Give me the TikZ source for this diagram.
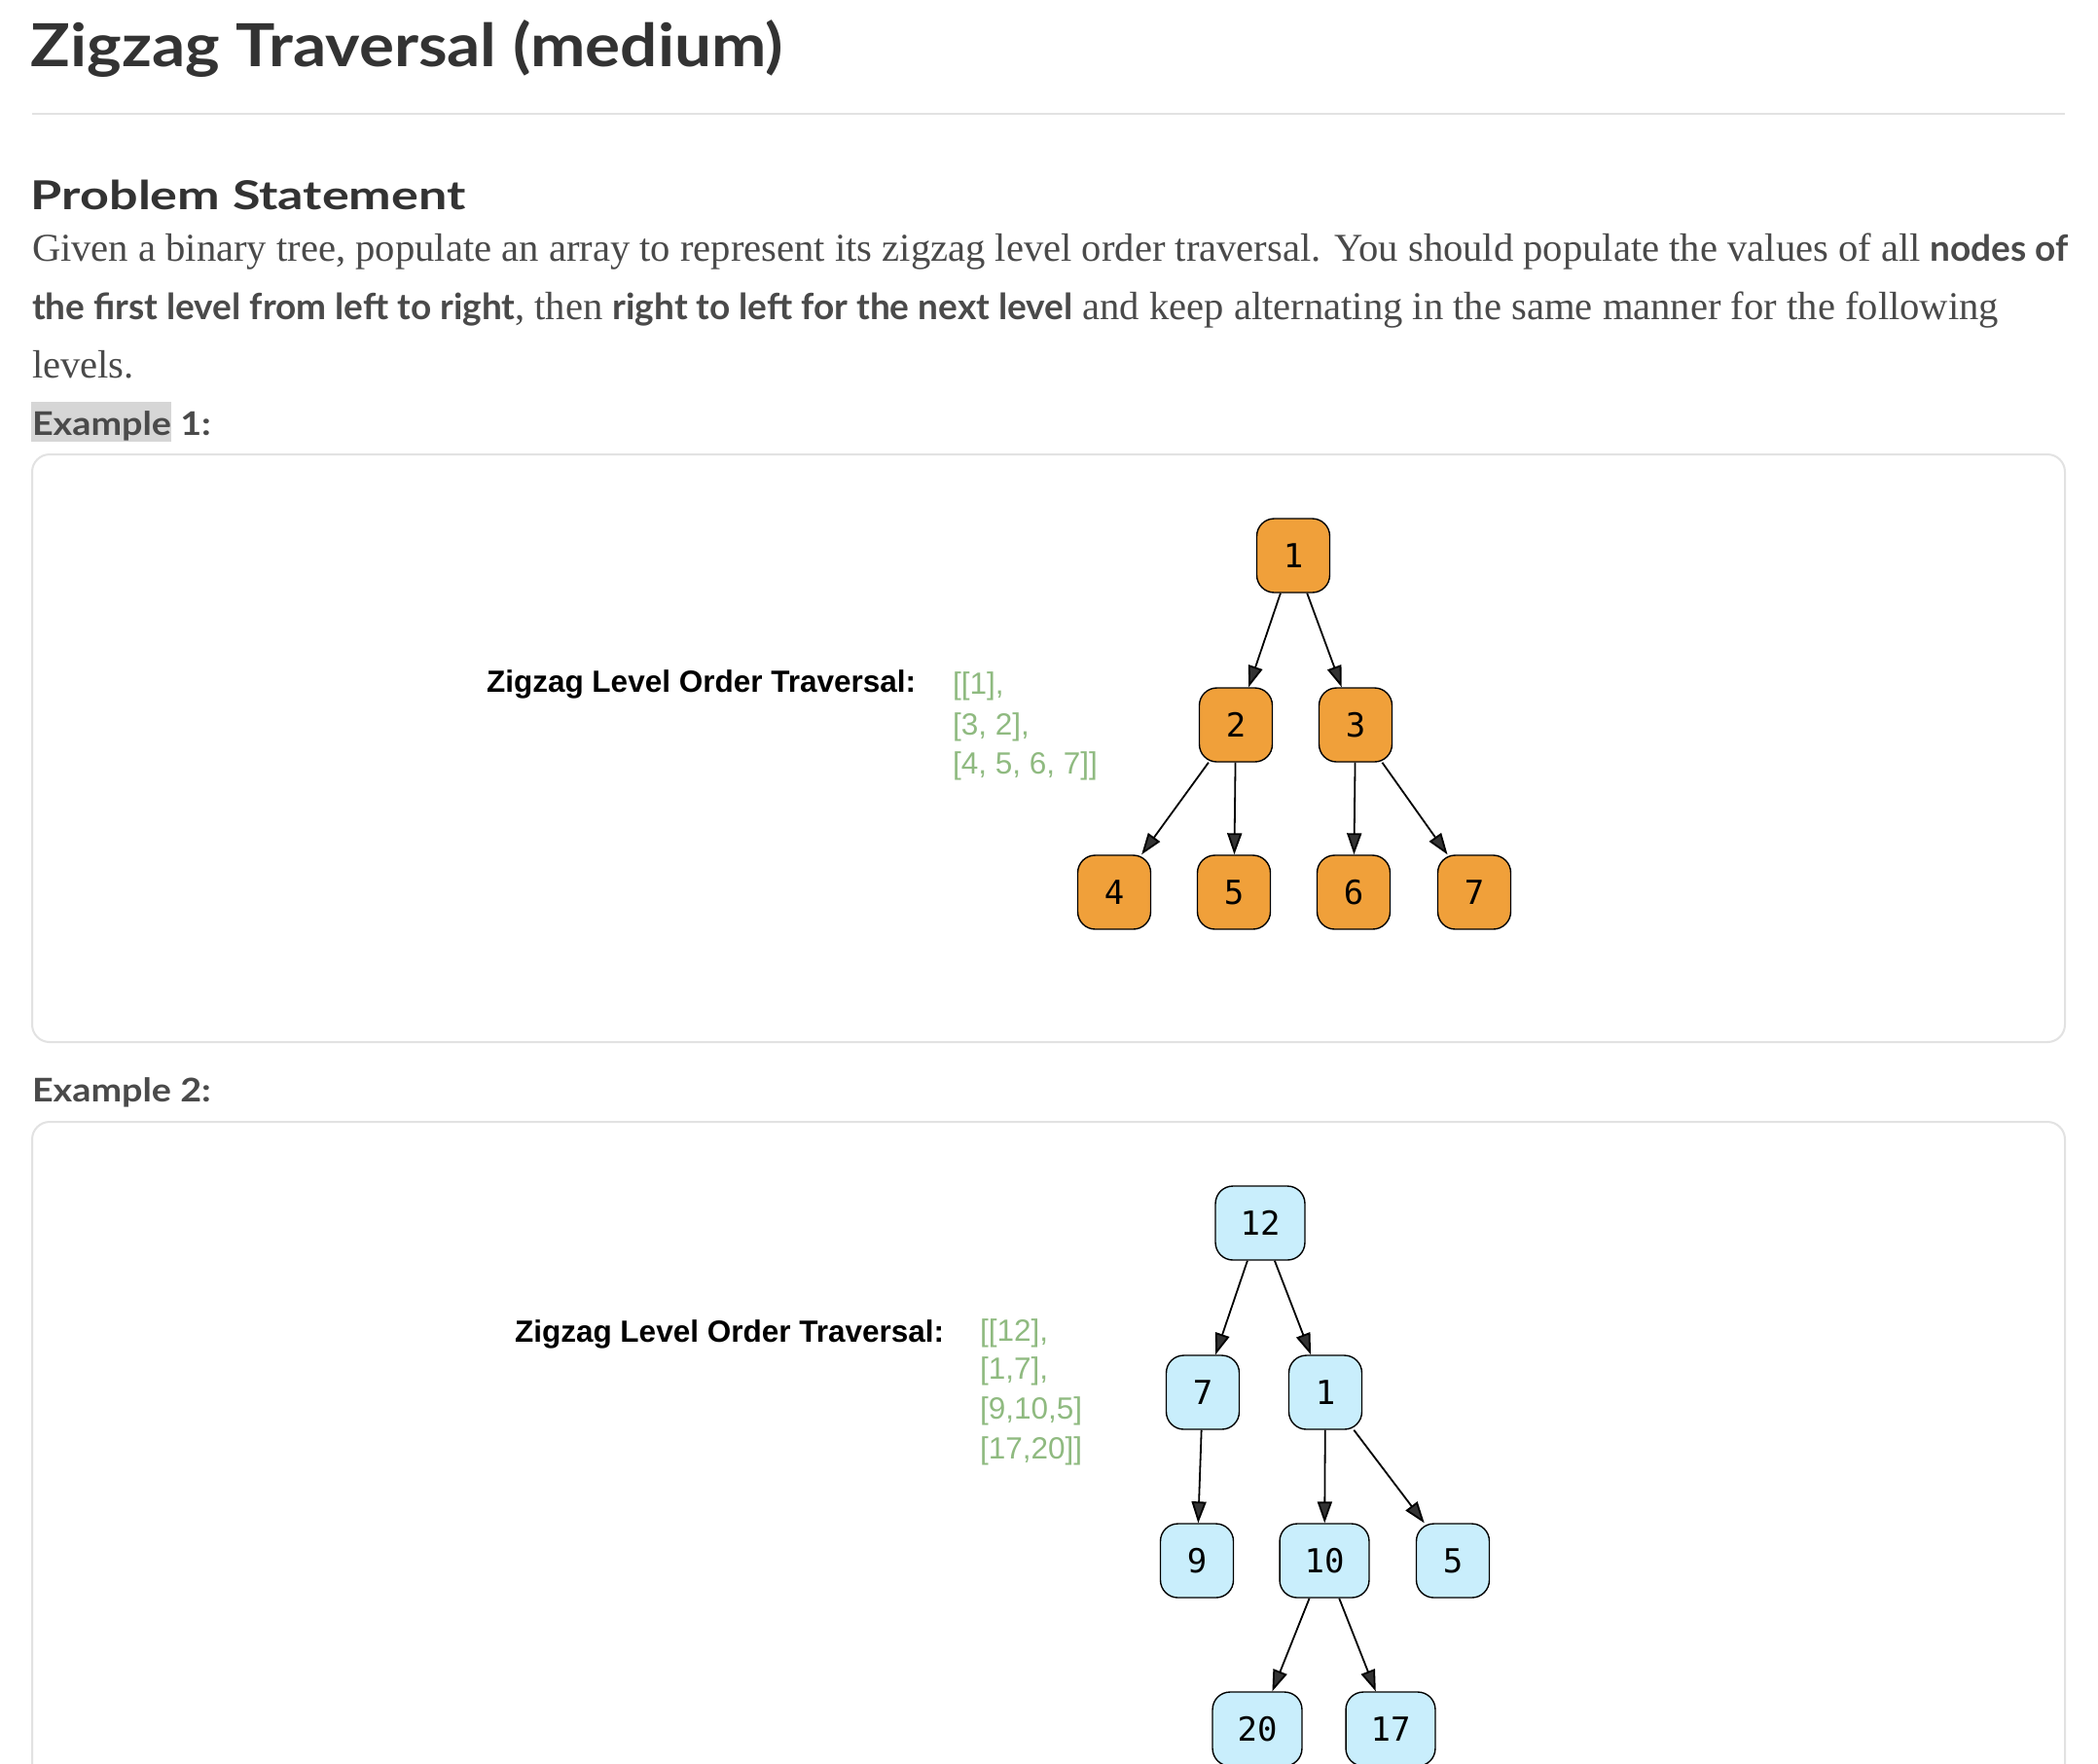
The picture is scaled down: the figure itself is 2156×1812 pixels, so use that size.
\documentclass[tikz,border=0pt]{standalone}
\usepackage{graphicx}
\usepackage{fontspec}
\setmainfont{Liberation Serif}
\newfontfamily\latofont{Lato}
\newfontfamily\arialfont{Liberation Sans}
\newfontfamily\numfont{DejaVu Sans Mono}
\usetikzlibrary{arrows.meta}
\definecolor{titlegray}{HTML}{333333}
\definecolor{textgray}{HTML}{4A4A4A}
\definecolor{rulegray}{HTML}{E2E2E2}
\definecolor{hlgray}{HTML}{D6D6D6}
\definecolor{orangefill}{HTML}{F0A03A}
\definecolor{bluefill}{HTML}{C9EEFC}
\definecolor{greentext}{HTML}{8FBA80}
\definecolor{headgray}{HTML}{333333}
\newcommand\bsans[1]{{\latofont\bfseries\fontsize{18.5pt}{24pt}\selectfont #1}}
\tikzset{
  txt/.style={anchor=base west, inner sep=0pt, outer sep=0pt},
  treenode/.style={draw=black, line width=0.7pt, rounded corners=9pt,
    minimum width=37.5pt, minimum height=38pt, inner xsep=12.75pt, inner ysep=0pt,
    font=\numfont\fontsize{17pt}{20pt}\selectfont},
  orangenode/.style={treenode, fill=orangefill},
  bluenode/.style={treenode, fill=bluefill},
  edge/.style={draw=black, line width=0.9pt,
    -{Triangle[length=11pt, width=7.5pt, fill=headgray]}},
  panel/.style={draw=rulegray, line width=1pt, rounded corners=9pt},
  labeltxt/.style={txt, font=\arialfont\bfseries\fontsize{15.75pt}{18pt}\selectfont, text=black},
  listtxt/.style={txt, font=\arialfont\fontsize{15.75pt}{18pt}\selectfont, text=greentext},
  paratxt/.style={txt, font=\fontsize{20.3pt}{24pt}\selectfont, text=textgray},
  extxt/.style={txt, font=\latofont\bfseries\fontsize{16.75pt}{20pt}\selectfont, text=textgray}
}
\begin{document}
\begin{tikzpicture}[x=0.5pt, y=-0.5pt]
\clip (0,0) rectangle (2156,1812);
\fill[white] (0,0) rectangle (2156,1812);
% heading
\node[txt, font=\latofont\bfseries\fontsize{30.5pt}{36pt}\selectfont, text=titlegray] (title) at (32,68) {\scalebox{1.105}[1]{Zigzag Traversal (medium)}};
\draw[rulegray, line width=1pt] (33,117) -- (2122,117);
\node[txt, font=\latofont\bfseries\fontsize{20.5pt}{24pt}\selectfont, text=titlegray] (ps) at (32,215) {\scalebox{1.27}[1]{Problem Statement}};
\node[paratxt] (p1) at (33,268) {Given a binary tree, populate an array to represent its zigzag level order traversal. You should populate the values of all \bsans{nodes of}};
\node[paratxt] (p2) at (33,328) {\bsans{the first level from left to right}, then \bsans{right to left for the next level} and keep alternating in the same manner for the following};
\node[paratxt] (p3) at (33,388) {levels.};
% example 1
\fill[hlgray] (32,413) rectangle (176,454);
\node[extxt] (ex1) at (33,447) {\scalebox{1.126}[1]{Example 1:}};
\draw[panel] (33,467) rectangle (2122,1071);
\node[labeltxt] (lab1) at (500,711) {Zigzag Level Order Traversal:};
\node[listtxt] (l11) at (979,713) {[[1],};
\node[listtxt] (l12) at (979,755) {[3, 2],};
\node[listtxt] (l13) at (979,795) {[4, 5, 6, 7]]};
\node[orangenode] (n1) at (1329,571) {1};
\node[orangenode] (n2) at (1270,745) {2};
\node[orangenode] (n3) at (1393,745) {3};
\node[orangenode] (n4) at (1145,917) {4};
\node[orangenode] (n5) at (1268,917) {5};
\node[orangenode] (n6) at (1391,917) {6};
\node[orangenode] (n7) at (1515,917) {7};
\draw[edge] (n1) -- (n2);
\draw[edge] (n1) -- (n3);
\draw[edge] (n2) -- (n4);
\draw[edge] (n2) -- (n5);
\draw[edge] (n3) -- (n6);
\draw[edge] (n3) -- (n7);
% example 2
\node[extxt] (ex2) at (33,1132) {\scalebox{1.126}[1]{Example 2:}};
\draw[panel] (33,1153) rectangle (2122,1900);
\node[labeltxt] (lab2) at (529,1379) {Zigzag Level Order Traversal:};
\node[listtxt] (l21) at (1007,1378) {[[12],};
\node[listtxt] (l22) at (1007,1417) {[1,7],};
\node[listtxt] (l23) at (1007,1458) {[9,10,5]};
\node[listtxt] (l24) at (1007,1499) {[17,20]]};
\node[bluenode] (a12) at (1295,1257) {12};
\node[bluenode] (a7) at (1236,1431) {7};
\node[bluenode] (a1) at (1362,1431) {1};
\node[bluenode] (a9) at (1230,1604) {9};
\node[bluenode] (a10) at (1361,1604) {10};
\node[bluenode] (a5) at (1493,1604) {5};
\node[bluenode] (a20) at (1292,1777) {20};
\node[bluenode] (a17) at (1429,1777) {17};
\draw[edge] (a12) -- (a7);
\draw[edge] (a12) -- (a1);
\draw[edge] (a7) -- (a9);
\draw[edge] (a1) -- (a10);
\draw[edge] (a1) -- (a5);
\draw[edge] (a10) -- (a20);
\draw[edge] (a10) -- (a17);
\end{tikzpicture}
\end{document}
